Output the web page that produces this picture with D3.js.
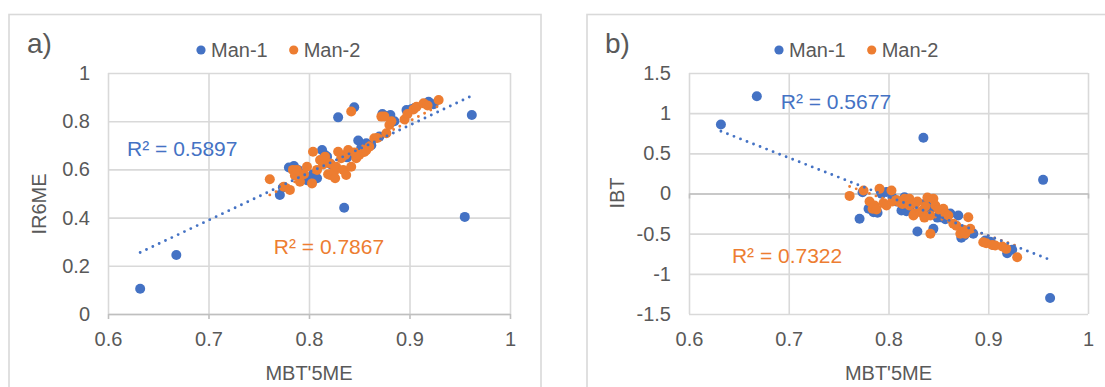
<!DOCTYPE html>
<html>
<head>
<meta charset="utf-8">
<script src="https://cdn.jsdelivr.net/npm/d3@7"></script>
<style>
  html, body { margin: 0; padding: 0; background: #fff; }
  svg text { font-family: "Liberation Sans", Arial, sans-serif; }
</style>
</head>
<body>
<svg id="chart" width="1105" height="387"></svg>
<script>
// ---- data: one entry per sample ----
const man1MBT   = [0.632, 0.668, 0.771, 0.774, 0.780, 0.785, 0.789, 0.793, 0.798, 0.804, 0.808, 0.813, 0.816, 0.818, 0.822, 0.829, 0.835, 0.838, 0.841, 0.845, 0.849, 0.852, 0.857, 0.862, 0.870, 0.873, 0.876, 0.881, 0.885, 0.897, 0.902, 0.905, 0.919, 0.924, 0.955, 0.962];
const man1IR6ME = [0.105, 0.245, 0.494, 0.525, 0.608, 0.614, 0.598, 0.577, 0.555, 0.580, 0.563, 0.680, 0.660, 0.653, 0.620, 0.816, 0.441, 0.650, 0.667, 0.858, 0.720, 0.690, 0.708, 0.700, 0.736, 0.830, 0.822, 0.826, 0.800, 0.846, 0.850, 0.855, 0.881, 0.870, 0.403, 0.826];
const man1IBT   = [0.86, 1.21, -0.315, 0.016, -0.19, -0.233, -0.24, -0.004, 0.02, -0.05, -0.10, -0.212, -0.046, -0.22, -0.15, -0.473, 0.693, -0.108, -0.20, -0.44, -0.30, -0.295, -0.32, -0.25, -0.274, -0.55, -0.523, -0.48, -0.50, -0.585, -0.60, -0.64, -0.743, -0.70, 0.17, -1.30];

const man2MBT   = [0.761, 0.775, 0.781, 0.784, 0.786, 0.788, 0.791, 0.795, 0.798, 0.803, 0.804, 0.808, 0.811, 0.814, 0.816, 0.819, 0.821, 0.821, 0.825, 0.826, 0.827, 0.829, 0.832, 0.834, 0.836, 0.837, 0.839, 0.842, 0.842, 0.845, 0.847, 0.850, 0.855, 0.857, 0.860, 0.865, 0.868, 0.872, 0.875, 0.877, 0.880, 0.882, 0.895, 0.898, 0.904, 0.907, 0.914, 0.918, 0.929];
const man2IR6ME = [0.559, 0.528, 0.515, 0.598, 0.575, 0.598, 0.549, 0.580, 0.611, 0.542, 0.673, 0.598, 0.639, 0.620, 0.653, 0.580, 0.625, 0.577, 0.590, 0.563, 0.611, 0.673, 0.646, 0.598, 0.660, 0.577, 0.680, 0.840, 0.611, 0.670, 0.646, 0.660, 0.672, 0.680, 0.694, 0.729, 0.730, 0.819, 0.820, 0.750, 0.784, 0.800, 0.807, 0.830, 0.849, 0.860, 0.874, 0.865, 0.888];
const man2IBT   = [-0.03, 0.037, -0.10, -0.19, -0.149, -0.20, 0.058, -0.12, -0.149, 0.037, -0.10, -0.08, -0.108, -0.13, -0.066, -0.09, -0.066, -0.15, -0.274, -0.25, -0.128, -0.10, -0.233, -0.212, -0.30, -0.16, -0.05, -0.50, -0.274, -0.066, -0.15, -0.20, -0.19, -0.25, -0.274, -0.377, -0.40, -0.50, -0.45, -0.50, -0.295, -0.44, -0.606, -0.62, -0.64, -0.647, -0.66, -0.689, -0.793];

// linear trendlines: [slope, intercept, xFrom, xTo]
const trendA1 = [1.97, -0.990, 0.632, 0.962];
const trendA2 = [2.20, -1.180, 0.761, 0.929];
const trendB1 = [-4.85, 3.840, 0.632, 0.962];
const trendB2 = [-4.41, 3.443, 0.761, 0.929];

const r2A = ["R² = 0.5897", "R² = 0.7867"];
const r2B = ["R² = 0.5677", "R² = 0.7322"];

const xTicks = [0.6, 0.7, 0.8, 0.9, 1];
const xTickLabels = ["0.6", "0.7", "0.8", "0.9", "1"];
const yTicksA = [0, 0.2, 0.4, 0.6, 0.8, 1];
const yTickLabelsA = ["0", "0.2", "0.4", "0.6", "0.8", "1"];
const yTicksB = [-1.5, -1, -0.5, 0, 0.5, 1, 1.5];
const yTickLabelsB = ["-1.5", "-1", "-0.5", "0", "0.5", "1", "1.5"];

const seriesNames = ["Man-1", "Man-2"];
const colors = ["#4472C4", "#ED7D31"];
const textGray = "#595959";
const gridGray = "#d9d9d9";
const axisGray = "#bfbfbf";

const svg = d3.select("#chart");
svg.append("rect").attr("width", 1105).attr("height", 387).attr("fill", "#fff");

function zip(xs, ys) { return xs.map((x, i) => [x, ys[i]]); }

const panels = [
  {
    letter: "a)", frame: [9, 14.5, 532, 400],
    plot: { left: 108, right: 510, top: 73, bottom: 314 },
    yDomain: [0, 1], yTicks: yTicksA, yLabels: yTickLabelsA,
    yTitle: "IR6ME", yTitlePos: [39, 204],
    letterX: 27, legendX: 201,
    series: [zip(man1MBT, man1IR6ME), zip(man2MBT, man2IR6ME)],
    trends: [trendA1, trendA2],
    r2: r2A, r2Pos: [[0.619, 0.685], [0.765, 0.279]],
    xAxisAt: 0
  },
  {
    letter: "b)", frame: [587, 14.5, 600, 400],
    plot: { left: 689, right: 1088, top: 73, bottom: 314 },
    yDomain: [-1.5, 1.5], yTicks: yTicksB, yLabels: yTickLabelsB,
    yTitle: "IBT", yTitlePos: [617, 193],
    letterX: 605, legendX: 779,
    series: [zip(man1MBT, man1IBT), zip(man2MBT, man2IBT)],
    trends: [trendB1, trendB2],
    r2: r2B, r2Pos: [[0.692, 1.15], [0.643, -0.77]],
    xAxisAt: 0
  }
];

panels.forEach(p => {
  const g = svg.append("g");
  const P = p.plot;
  const x = d3.scaleLinear().domain([0.6, 1]).range([P.left, P.right]);
  const y = d3.scaleLinear().domain(p.yDomain).range([P.bottom, P.top]);

  // chart area border
  g.append("rect")
    .attr("x", p.frame[0]).attr("y", p.frame[1])
    .attr("width", p.frame[2]).attr("height", p.frame[3])
    .attr("fill", "#fff").attr("stroke", gridGray).attr("stroke-width", 1.6);

  // gridlines
  const gy = g.append("g").attr("transform", `translate(${P.left},0)`)
    .call(d3.axisLeft(y).tickValues(p.yTicks).tickSize(-(P.right - P.left)).tickFormat(""));
  const gx = g.append("g").attr("transform", `translate(0,${P.bottom})`)
    .call(d3.axisBottom(x).tickValues(xTicks).tickSize(-(P.bottom - P.top)).tickFormat(""));
  [gy, gx].forEach(a => {
    a.select(".domain").remove();
    a.selectAll("line").attr("stroke", gridGray).attr("stroke-width", 1.6);
  });

  // horizontal axis line with outside tick marks, crossing at zero
  const ax = g.append("g").attr("transform", `translate(0,${y(p.xAxisAt)})`)
    .call(d3.axisBottom(x).tickValues(xTicks).tickSize(5).tickSizeOuter(0).tickFormat(""));
  ax.select(".domain").attr("stroke", axisGray).attr("stroke-width", 1.6);
  ax.selectAll("line").attr("stroke", axisGray).attr("stroke-width", 1.6);

  // tick labels
  const lx = g.append("g").attr("transform", `translate(0,${P.bottom})`)
    .call(d3.axisBottom(x).tickValues(xTicks).tickSize(0).tickPadding(18)
      .tickFormat((d, i) => xTickLabels[i]));
  const ly = g.append("g").attr("transform", `translate(${P.left},0)`)
    .call(d3.axisLeft(y).tickValues(p.yTicks).tickSize(0).tickPadding(18)
      .tickFormat((d, i) => p.yLabels[i]));
  [lx, ly].forEach(a => {
    a.select(".domain").remove();
    a.selectAll("text").attr("fill", textGray).style("font-size", "20px")
      .style("font-family", "'Liberation Sans', Arial, sans-serif");
  });

  // axis titles
  g.append("text").attr("x", (P.left + P.right) / 2).attr("y", 373)
    .attr("text-anchor", "middle").attr("dominant-baseline", "central")
    .attr("fill", textGray).style("font-size", "20px").text("MBT'5ME");
  g.append("text")
    .attr("transform", `translate(${p.yTitlePos[0]},${p.yTitlePos[1]}) rotate(-90)`)
    .attr("text-anchor", "middle").attr("dominant-baseline", "central")
    .attr("fill", textGray).style("font-size", "20px").text(p.yTitle);

  // panel letter
  g.append("text").attr("x", p.letterX).attr("y", 43)
    .attr("dominant-baseline", "central")
    .attr("fill", textGray).style("font-size", "28px").text(p.letter);

  // legend
  const leg = g.append("g").attr("transform", `translate(${p.legendX},50)`);
  let off = 0;
  seriesNames.forEach((name, i) => {
    leg.append("circle").attr("cx", off).attr("cy", 0).attr("r", 4.6).attr("fill", colors[i]);
    const t = leg.append("text").attr("x", off + 10).attr("y", 0)
      .attr("dominant-baseline", "central").attr("fill", textGray)
      .style("font-size", "20px").text(name);
    off += 10 + t.node().getComputedTextLength() + 26;
  });

  // points
  p.series.forEach((pts, i) => {
    g.append("g").selectAll("circle").data(pts).join("circle")
      .attr("cx", d => x(d[0])).attr("cy", d => y(d[1]))
      .attr("r", 5).attr("fill", colors[i]);
  });

  // dotted trendlines (second series underneath the first)
  [1, 0].forEach(i => {
    const t = p.trends[i];
    const line = d3.line().x(d => x(d)).y(d => y(t[0] * d + t[1]));
    g.append("path").datum([t[2], t[3]]).attr("d", line)
      .attr("fill", "none").attr("stroke", colors[i]).attr("stroke-width", 2.9)
      .attr("stroke-linecap", "round").attr("stroke-dasharray", "0 7");
  });

  // R² labels
  p.r2.forEach((label, i) => {
    g.append("text").attr("x", x(p.r2Pos[i][0])).attr("y", y(p.r2Pos[i][1]))
      .attr("dominant-baseline", "central").attr("fill", colors[i])
      .style("font-size", "21px").text(label);
  });
});
</script>
</body>
</html>
